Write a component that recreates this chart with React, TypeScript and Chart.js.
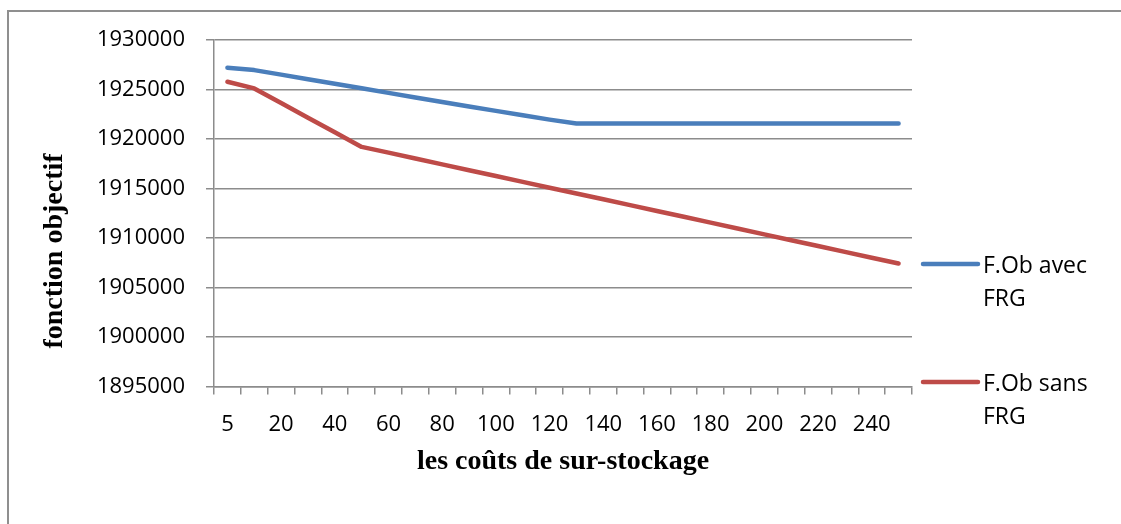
import React, { useEffect, useRef } from "react";
import { Chart, registerables } from "chart.js";

Chart.register(...registerables);

// ---- data ----
const categories = [
  "5", "10", "20", "30", "40", "50", "60", "70", "80", "90", "100", "110", "120",
  "130", "140", "150", "160", "170", "180", "190", "200", "210", "220", "230", "240", "250",
];

const avecFRG = [
  1927200, 1926960, 1926500, 1926040, 1925580, 1925120, 1924660, 1924200, 1923740,
  1923280, 1922840, 1922400, 1921960, 1921570, 1921570, 1921570, 1921570, 1921570,
  1921570, 1921570, 1921570, 1921570, 1921570, 1921570, 1921570, 1921570,
];

const sansFRG = [
  1925780, 1925110, 1923630, 1922150, 1920680, 1919200, 1918620, 1918030, 1917440,
  1916850, 1916260, 1915670, 1915080, 1914500, 1913910, 1913320, 1912730, 1912140,
  1911550, 1910960, 1910370, 1909780, 1909190, 1908600, 1908010, 1907420,
];

const seriesNames = ["F.Ob avec FRG", "F.Ob sans FRG"];
const seriesColors = ["#4A7EBB", "#BE4B48"];

const yMin = 1895000;
const yMax = 1930000;
const yStep = 5000;

const xTitle = "les coûts de sur-stockage";
const yTitle = "fonction objectif";

// ---- styles ----
const GRID = "#8c8c8c";
const TICK_FONT = "'Open Sans', sans-serif";
const TITLE_FONT = "'Liberation Serif', 'Times New Roman', serif";

const yTitlePlugin = {
  id: "yTitlePlugin",
  afterDraw(chart: any) {
    const { ctx, chartArea } = chart;
    ctx.save();
    ctx.translate(chartArea.left - 159, chartArea.bottom - 135.5);
    ctx.rotate(-Math.PI / 2);
    ctx.font = `bold 28px ${TITLE_FONT}`;
    ctx.fillStyle = "#000";
    ctx.textAlign = "center";
    ctx.textBaseline = "middle";
    ctx.fillText(yTitle, 0, 0);
    ctx.restore();
  },
};

const legendPlugin = {
  id: "sideLegend",
  afterDraw(chart: any) {
    const { ctx, chartArea } = chart;
    const rowOffsets = [224, 342];
    const maxTextWidth = 130;
    const lineHeight = 33;
    ctx.save();
    ctx.font = `23px ${TICK_FONT}`;
    chart.data.datasets.forEach((ds: any, i: number) => {
      const y = chartArea.top + rowOffsets[i];
      const x0 = chartArea.right + 11;
      const x1 = chartArea.right + 66;
      ctx.strokeStyle = ds.borderColor;
      ctx.lineWidth = 4.5;
      ctx.lineCap = "round";
      ctx.beginPath();
      ctx.moveTo(x0, y);
      ctx.lineTo(x1, y);
      ctx.stroke();
      // wrap label
      const words = String(ds.label).split(" ");
      const lines: string[] = [];
      let cur = "";
      for (const w of words) {
        const test = cur ? cur + " " + w : w;
        if (ctx.measureText(test).width > maxTextWidth && cur) {
          lines.push(cur);
          cur = w;
        } else cur = test;
      }
      if (cur) lines.push(cur);
      ctx.fillStyle = "#000";
      ctx.textAlign = "left";
      ctx.textBaseline = "alphabetic";
      lines.forEach((ln, k) => {
        ctx.fillText(ln, x1 + 5, y + 8.5 + k * lineHeight);
      });
    });
    ctx.restore();
  },
};

export default function App() {
  const canvasRef = useRef<HTMLCanvasElement | null>(null);

  useEffect(() => {
    if (!canvasRef.current) return;
    const chart = new Chart(canvasRef.current, {
      type: "line",
      data: {
        labels: categories,
        datasets: [
          {
            label: seriesNames[0],
            data: avecFRG,
            borderColor: seriesColors[0],
            backgroundColor: seriesColors[0],
            borderWidth: 4.5,
            pointRadius: 0,
            tension: 0,
            borderCapStyle: "round",
            borderJoinStyle: "round",
          },
          {
            label: seriesNames[1],
            data: sansFRG,
            borderColor: seriesColors[1],
            backgroundColor: seriesColors[1],
            borderWidth: 4.5,
            pointRadius: 0,
            tension: 0,
            borderCapStyle: "round",
            borderJoinStyle: "round",
          },
        ],
      },
      options: {
        responsive: false,
        animation: false,
        devicePixelRatio: 1,
        layout: { padding: { left: 0, top: 40, right: 209, bottom: 0 } },
        plugins: {
          legend: { display: false },
          tooltip: { enabled: false },
          title: { display: false },
        },
        scales: {
          x: {
            type: "category",
            offset: true,
            grid: {
              display: true,
              offset: true,
              drawOnChartArea: false,
              drawTicks: true,
              tickLength: 8,
              color: GRID,
              lineWidth: 1.5,
            },
            border: { display: true, color: GRID, width: 1.5 },
            ticks: {
              autoSkip: false,
              maxRotation: 0,
              minRotation: 0,
              padding: 17,
              color: "#000",
              font: { family: TICK_FONT, size: 22 },
              callback: (_v: any, i: number) => (i % 2 === 0 ? categories[i] : ""),
            },
            title: {
              display: true,
              text: xTitle,
              color: "#000",
              font: { family: TITLE_FONT, size: 28, weight: "bold" },
              padding: { top: 0, bottom: 45 },
            },
            afterFit: (scale: any) => {
              scale.height = 137.5;
            },
          },
          y: {
            min: yMin,
            max: yMax,
            grid: {
              color: GRID,
              lineWidth: 1.5,
              drawTicks: true,
              tickLength: 8,
            },
            border: { display: true, color: GRID, width: 1.5 },
            ticks: {
              stepSize: yStep,
              padding: 21,
              color: "#000",
              font: { family: TICK_FONT, size: 22 },
              callback: (v: any) => String(v),
            },
            afterFit: (scale: any) => {
              scale.width = 214;
            },
          },
        },
      },
      plugins: [yTitlePlugin, legendPlugin],
    });
    return () => chart.destroy();
  }, []);

  return (
    <div style={{ position: "absolute", left: 0, top: 0, width: 1121, height: 524, overflow: "hidden", background: "#fff" }}>
      <div
        style={{
          position: "absolute",
          left: 7,
          top: 10,
          width: 1300,
          height: 700,
          border: "2px solid #8f8f8f",
          boxSizing: "border-box",
        }}
      />
      <canvas
        ref={canvasRef}
        width={1121}
        height={524}
        style={{ position: "absolute", left: 0, top: 0, width: 1121, height: 524, display: "block" }}
      />
    </div>
  );
}
